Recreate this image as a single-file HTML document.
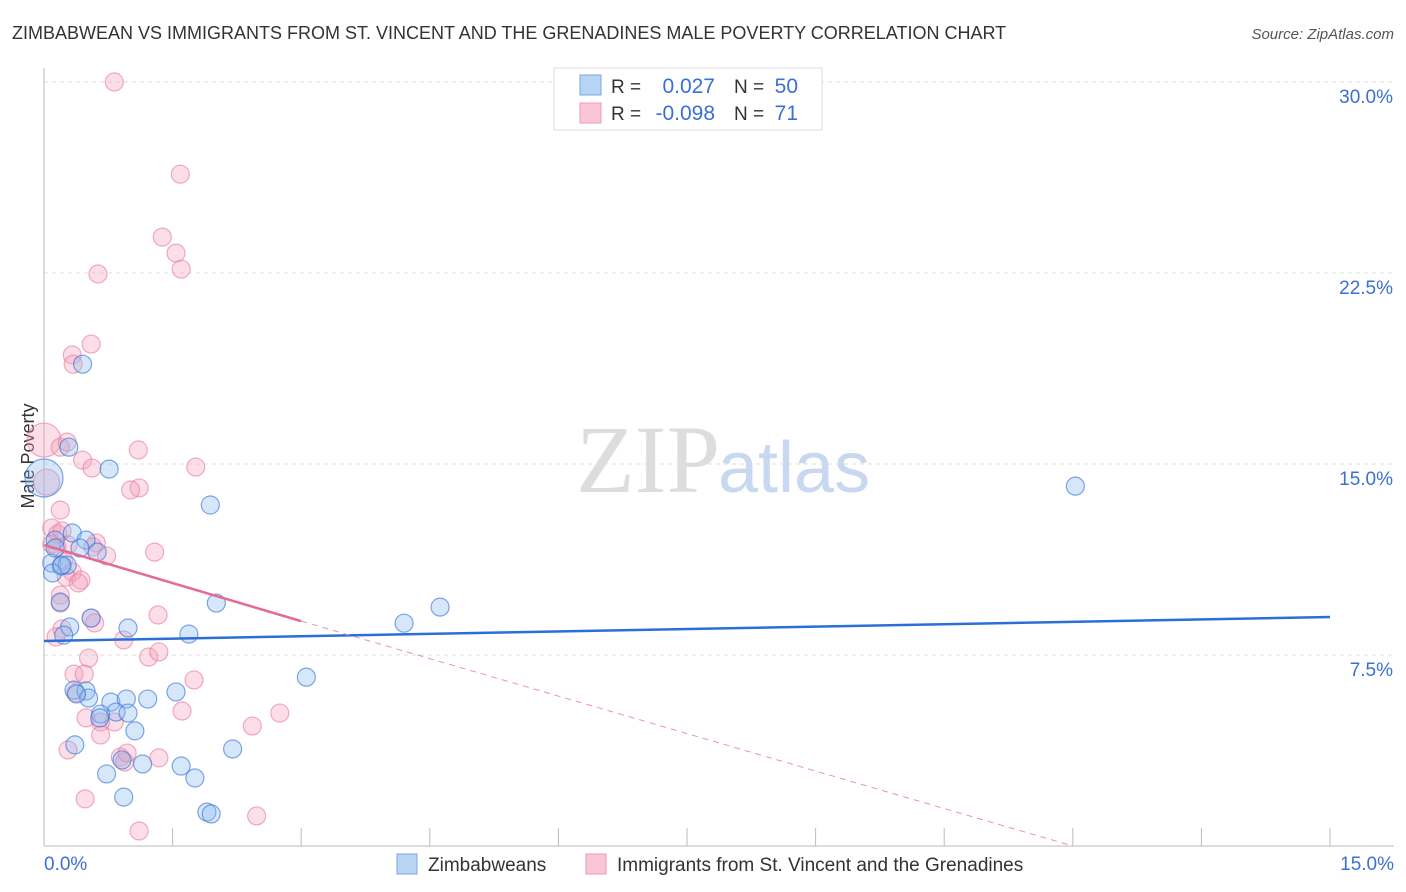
<!DOCTYPE html>
<html><head><meta charset="utf-8"><style>
body{margin:0;background:#fff;font-family:"Liberation Sans",sans-serif}
svg{display:block}
</style></head><body>
<svg id="c" width="1406" height="892">
<text x="12" y="39" font-size="18" fill="#333">ZIMBABWEAN VS IMMIGRANTS FROM ST. VINCENT AND THE GRENADINES MALE POVERTY CORRELATION CHART</text>
<text x="1394" y="39" font-size="15" fill="#555" font-style="italic" text-anchor="end">Source: ZipAtlas.com</text>
<text x="720" y="492" font-size="96" fill="#ddd" text-anchor="end" font-family="Liberation Serif">ZIP</text>
<text x="718" y="492" font-size="72" fill="#c8d8f0">atlas</text>
<text x="34" y="456" font-size="18" fill="#333" text-anchor="middle" transform="rotate(-90 34 456)">Male Poverty</text>
<g id="grid"></g><g id="pts"></g><g id="trend"></g>
<g>
<rect x="554" y="68" width="268" height="62" fill="#fff" stroke="#ddd"/>
<rect x="580" y="75" width="21" height="20" fill="#b8d4f5" stroke="#7aa6e6"/>
<rect x="580" y="103" width="21" height="20" fill="#f9c6d6" stroke="#ee9ab5"/>
<text x="611" y="93" font-size="19" fill="#333">R =</text><text x="715" y="93" font-size="21" fill="#3b6fd4" text-anchor="end">0.027</text>
<text x="734" y="93" font-size="19" fill="#333">N =</text><text x="798" y="93" font-size="21" fill="#3b6fd4" text-anchor="end">50</text>
<text x="611" y="120" font-size="19" fill="#333">R =</text><text x="715" y="120" font-size="21" fill="#3b6fd4" text-anchor="end">-0.098</text>
<text x="734" y="120" font-size="19" fill="#333">N =</text><text x="798" y="120" font-size="21" fill="#3b6fd4" text-anchor="end">71</text>
</g>
<g>
<rect x="397" y="854" width="20" height="20" fill="#b8d4f5" stroke="#7aa6e6"/>
<text x="428" y="871" font-size="19" fill="#333">Zimbabweans</text>
<rect x="586" y="854" width="20" height="20" fill="#f9c6d6" stroke="#ee9ab5"/>
<text x="617" y="871" font-size="19" fill="#333">Immigrants from St. Vincent and the Grenadines</text>
</g>
<text x="44" y="870" font-size="19" fill="#3b6fd4">0.0%</text>
<text x="1394" y="870" font-size="19" fill="#3b6fd4" text-anchor="end">15.0%</text>
</svg>
<script>
const yTicks=[7.5,15,22.5,30];
const xTicks=[0,1.5,3,4.5,6,7.5,9,10.5,12,13.5,15];
const blueX=[0.45,0.29,0.76,1.94,12.03,0.33,0.49,0.13,0.62,0.42,0.09,0.20,0.27,0.10,0.19,0.55,0.98,0.30,0.23,1.69,2.01,4.20,4.62,3.06,0.35,0.49,0.52,0.38,0.78,0.96,1.21,1.54,0.84,0.98,0.66,1.06,0.36,0.91,1.15,1.60,2.20,0.73,1.76,0.93,1.90,1.95,0,0.13,0.21,0.65];
const blueY=[18.92,15.66,14.80,13.39,14.13,12.29,12.01,12.01,11.54,11.70,11.11,10.99,11.03,10.72,9.58,8.95,8.56,8.60,8.28,8.32,9.54,8.75,9.38,6.63,6.12,6.09,5.81,5.97,5.65,5.77,5.77,6.05,5.26,5.22,5.18,4.52,3.97,3.38,3.22,3.14,3.81,2.83,2.67,1.92,1.33,1.26,14.45,11.70,11.03,5.03];
const pinkX=[0.82,1.59,1.38,1.54,1.60,0.63,0.55,0.33,0.34,0,0.19,0.27,0.45,0.56,1.10,1.11,1.01,1.77,0.03,0.19,0.09,0.16,0.21,0.09,0.15,0.28,0.61,0.57,0.73,1.29,0.23,0.33,0.26,0.43,0.40,0.19,0.19,0.55,0.59,1.33,0.21,0.14,0.93,1.22,1.34,0.52,0.35,0.47,1.75,0.37,1.61,0.49,0.66,0.82,2.43,2.75,0.66,0.28,0.89,0.94,0.97,1.34,0.48,1.11,2.48];
const pinkY=[30.0,26.38,23.91,23.28,22.65,22.46,19.71,19.28,18.92,15.94,15.66,15.86,15.15,14.84,15.55,14.06,13.98,14.88,14.29,13.19,12.49,12.25,12.37,11.86,11.74,11.82,11.90,11.74,11.39,11.54,11.23,10.76,10.56,10.44,10.33,9.85,9.54,8.95,8.76,9.07,8.52,8.21,8.09,7.42,7.62,7.38,6.75,6.75,6.52,6.01,5.30,5.03,4.87,4.87,4.71,5.22,4.36,3.77,3.49,3.30,3.65,3.46,1.85,0.59,1.18];
const blueTrend=[8.05,8.99];
const pinkTrend=[11.82,8.83,0];
const X=v=>44+v*1286/15, Y=v=>846-v*764/30;
const NS='http://www.w3.org/2000/svg';
function mk(tag,a,p){const e=document.createElementNS(NS,tag);for(const k in a)e.setAttribute(k,a[k]);p.appendChild(e);return e;}
const g=document.getElementById('grid');
yTicks.forEach(t=>{
 const l=mk('line',{x1:44,x2:1394,y1:Y(t),y2:Y(t),stroke:'#ddd','stroke-dasharray':'4,4'},g);
 
 
 const tx=mk('text',{x:1393,y:Y(t)+21,'font-size':19,fill:'#3b6fd4','text-anchor':'end'},g);tx.textContent=t.toFixed(1)+'%';
 
 
});
const ax=mk('line',{x1:44,x2:44,y1:68,y2:846,stroke:'#bbb'},g);


const bx=mk('line',{x1:44,x2:1394,y1:846,y2:846,stroke:'#bbb'},g);


xTicks.forEach(t=>{const l=mk('line',{x1:X(t),x2:X(t),y1:828,y2:846,stroke:'#bbb'},g);
 
 });
const P=document.getElementById('pts');
pinkX.forEach((x,i)=>{const r=(i==9)?17:(i==18?13:9);const c=mk('circle',{cx:X(x),cy:Y(pinkY[i]),r:r,fill:'rgba(244,160,186,0.35)',stroke:'rgba(232,120,155,0.6)','stroke-width':1.2},P);
 
 });
blueX.forEach((x,i)=>{const r=(i==46)?19:9;const c=mk('circle',{cx:X(x),cy:Y(blueY[i]),r:r,fill:'rgba(140,185,240,0.35)',stroke:'rgba(60,120,215,0.65)','stroke-width':1.2},P);
 
 });
const T=document.getElementById('trend');
const bl=mk('line',{x1:X(0),y1:Y(blueTrend[0]),x2:X(15),y2:Y(blueTrend[1]),stroke:'#2a6fd6','stroke-width':2.5},T);


const pl=mk('line',{x1:X(0),y1:Y(pinkTrend[0]),x2:X(3),y2:Y(pinkTrend[1]),stroke:'#e56a95','stroke-width':2.5},T);


const pd=mk('line',{x1:X(3),y1:Y(pinkTrend[1]),x2:X(12),y2:Y(pinkTrend[2]),stroke:'#e993b0','stroke-width':1,'stroke-dasharray':'6,5'},T);


</script>
</body></html>
